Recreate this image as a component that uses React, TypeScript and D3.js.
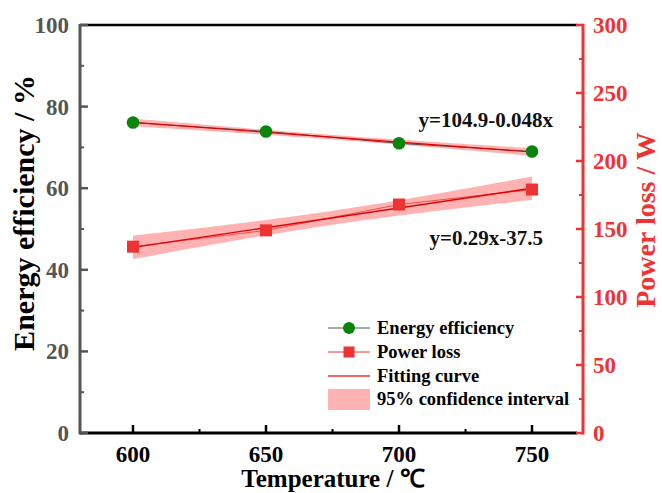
import React from "react";
import * as d3 from "d3";

const temperatures = [600, 650, 700, 750];
const energyEfficiency = [76.1, 73.9, 71.0, 69.0];
const powerLoss = [137, 149, 168, 179];
const xTicks = [600, 650, 700, 750];
const xMinorTicks = [625, 675, 725];
const leftTicks = [0, 20, 40, 60, 80, 100];
const leftMinorTicks = [10, 30, 50, 70, 90];
const rightTicks = [0, 50, 100, 150, 200, 250, 300];
const rightMinorTicks = [25, 75, 125, 175, 225, 275];
const effEquation = "y=104.9-0.048x";
const powerEquation = "y=0.29x-37.5";
const legendLabels = ["Energy efficiency", "Power loss", "Fitting curve", "95% confidence interval"];

const T_975_DF2 = 4.303;

function regression(xs: number[], ys: number[]) {
  const n = xs.length;
  const mx = d3.mean(xs)!;
  const my = d3.mean(ys)!;
  const sxx = d3.sum(xs, (x) => (x - mx) ** 2);
  const sxy = d3.sum(xs.map((x, i) => (x - mx) * (ys[i] - my)));
  const slope = sxy / sxx;
  const intercept = my - slope * mx;
  const sse = d3.sum(xs.map((x, i) => (ys[i] - (intercept + slope * x)) ** 2));
  const s = Math.sqrt(sse / (n - 2));
  const pred = (x: number) => intercept + slope * x;
  const half = (x: number) => T_975_DF2 * s * Math.sqrt(1 / n + (x - mx) ** 2 / sxx);
  return { pred, half };
}

const FONT = "'Liberation Serif', 'Times New Roman', serif";
const RED = "#ee3333";
const BAND = "rgba(255,0,0,0.3)";
const GREEN = "#0a840a";

export default function App() {
  const W = 662, H = 493;
  const top = 25, bottom = 433, left = 80, right = 583;
  const x = d3.scaleLinear().domain([580, 770]).range([79.8, 585.2]);
  const yL = d3.scaleLinear().domain([0, 100]).range([bottom, top]);
  const yR = d3.scaleLinear().domain([0, 300]).range([bottom, top]);

  const effReg = regression(temperatures, energyEfficiency);
  const powReg = regression(temperatures, powerLoss);
  const xs = d3.range(600, 750.001, 2);

  const bandArea = (reg: any, ys: d3.ScaleLinear<number, number>) =>
    d3.area<number>()
      .x((d) => x(d))
      .y0((d) => ys(reg.pred(d) - reg.half(d)))
      .y1((d) => ys(reg.pred(d) + reg.half(d)))(xs) || "";
  const fitLine = (reg: any, ys: d3.ScaleLinear<number, number>) =>
    d3.line<number>().x((d) => x(d)).y((d) => ys(reg.pred(d)))([600, 750]) || "";
  const effLine = d3.line<number>().x((d, i) => x(temperatures[i])).y((d) => yL(d))(energyEfficiency) || "";
  const powLine = d3.line<number>().x((d, i) => x(temperatures[i])).y((d) => yR(d))(powerLoss) || "";

  const lx = 328, ly = [328, 352, 376, 399];

  return (
    <svg width={W} height={H} style={{ position: "absolute", left: 0, top: 0, background: "#fff" }} fontFamily={FONT} fontWeight="bold">
      {/* bands */}
      <path d={bandArea(effReg, yL)} fill={BAND} />
      <path d={bandArea(powReg, yR)} fill={BAND} />
      {/* connecting lines */}
      <path d={effLine} fill="none" stroke="#333" strokeWidth={0.8} />
      <path d={powLine} fill="none" stroke={RED} strokeWidth={0.8} />
      {/* fits */}
      <path d={fitLine(effReg, yL)} fill="none" stroke="#e00000" strokeWidth={1.2} />
      <path d={fitLine(powReg, yR)} fill="none" stroke="#e00000" strokeWidth={1.4} />
      {/* markers */}
      {energyEfficiency.map((v, i) => (
        <circle key={"e" + i} cx={x(temperatures[i])} cy={yL(v)} r={6.3} fill={GREEN} />
      ))}
      {powerLoss.map((v, i) => (
        <rect key={"p" + i} x={x(temperatures[i]) - 6} y={yR(v) - 6} width={12} height={12} fill={RED} />
      ))}
      {/* equations */}
      <text x={553} y={127} textAnchor="end" fontSize={21} fill="#111">{effEquation}</text>
      <text x={543} y={245} textAnchor="end" fontSize={21} fill="#111">{powerEquation}</text>

      {/* frame */}
      <line x1={left} x2={right - 6} y1={top} y2={top} stroke="#000" strokeWidth={2.5} />
      <line x1={left} x2={right - 6} y1={bottom} y2={bottom} stroke="#000" strokeWidth={3} />
      <line x1={left} x2={left} y1={top - 1} y2={bottom + 1.5} stroke="#555" strokeWidth={3} />
      <line x1={right} x2={right} y1={top - 1.2} y2={bottom + 1.5} stroke={RED} strokeWidth={3} />

      {/* x ticks */}
      {xTicks.map((t) => (
        <g key={"xt" + t}>
          <line x1={x(t)} x2={x(t)} y1={bottom} y2={bottom - 8} stroke="#000" strokeWidth={2.5} />
          <text x={x(t)} y={462} textAnchor="middle" fontSize={23} fill="#000">{t}</text>
        </g>
      ))}
      {xMinorTicks.map((t) => (
        <line key={"xm" + t} x1={x(t)} x2={x(t)} y1={bottom} y2={bottom - 4} stroke="#000" strokeWidth={2} />
      ))}
      <text x={333} y={487} textAnchor="middle" fontSize={25} fill="#000">Temperature / ℃</text>

      {/* left axis */}
      {leftTicks.map((t) => (
        <g key={"lt" + t}>
          <line x1={left} x2={left + 8} y1={yL(t)} y2={yL(t)} stroke="#555" strokeWidth={2.5} />
          <text x={69} y={yL(t) + 8} textAnchor="end" fontSize={23} fill="#555">{t}</text>
        </g>
      ))}
      {leftMinorTicks.map((t) => (
        <line key={"lm" + t} x1={left} x2={left + 4} y1={yL(t)} y2={yL(t)} stroke="#555" strokeWidth={2} />
      ))}
      <text transform="translate(34,213) rotate(-90)" textAnchor="middle" fontSize={30} fill="#000">Energy efficiency / %</text>

      {/* right axis */}
      {rightTicks.map((t) => (
        <g key={"rt" + t}>
          <line x1={right} x2={right - 7} y1={yR(t)} y2={yR(t)} stroke={RED} strokeWidth={2.5} />
          <text x={593} y={yR(t) + 8} textAnchor="start" fontSize={23} fill={RED}>{t}</text>
        </g>
      ))}
      {rightMinorTicks.map((t) => (
        <line key={"rm" + t} x1={right} x2={right - 4} y1={yR(t)} y2={yR(t)} stroke={RED} strokeWidth={2} />
      ))}
      <text transform="translate(655,220) rotate(-90)" textAnchor="middle" fontSize={28} fill={RED}>Power loss / W</text>

      {/* legend */}
      <g fontSize={18.5} fill="#000">
        <line x1={lx} x2={lx + 42} y1={ly[0]} y2={ly[0]} stroke="#555" strokeWidth={1} />
        <circle cx={lx + 21} cy={ly[0]} r={6} fill={GREEN} />
        <text x={377} y={ly[0] + 6}>{legendLabels[0]}</text>

        <line x1={lx} x2={lx + 42} y1={ly[1]} y2={ly[1]} stroke={RED} strokeWidth={1} />
        <rect x={lx + 15.5} y={ly[1] - 5.5} width={11} height={11} fill={RED} />
        <text x={377} y={ly[1] + 6}>{legendLabels[1]}</text>

        <line x1={lx} x2={lx + 42} y1={ly[2]} y2={ly[2]} stroke={RED} strokeWidth={1.3} />
        <text x={377} y={ly[2] + 6}>{legendLabels[2]}</text>

        <rect x={lx} y={389} width={42} height={21} fill="rgba(255,0,0,0.3)" />
        <text x={377} y={ly[3] + 6}>{legendLabels[3]}</text>
      </g>
    </svg>
  );
}
